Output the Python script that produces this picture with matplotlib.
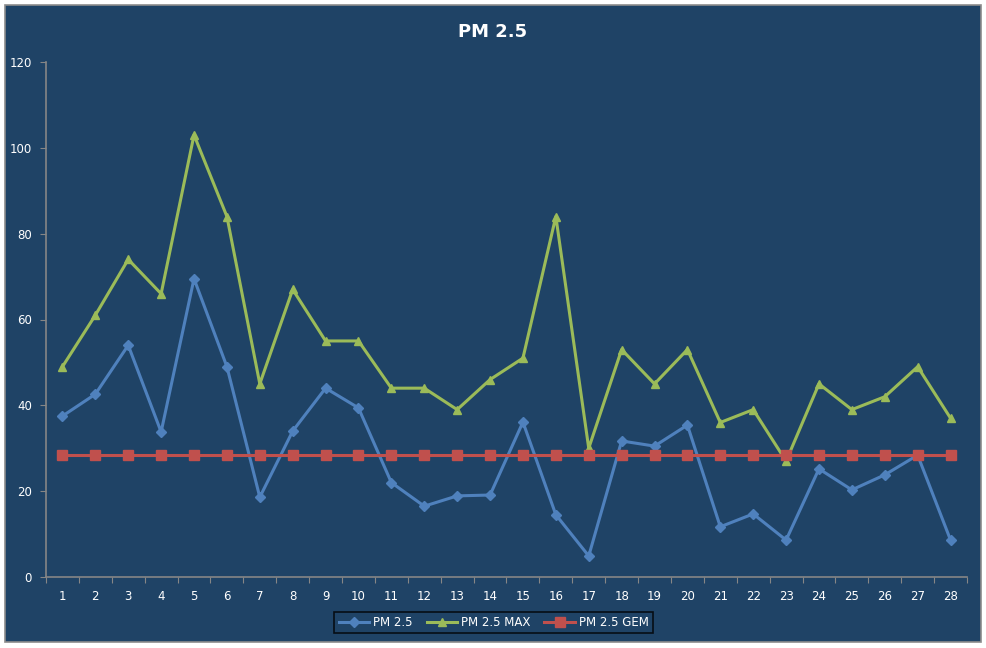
import matplotlib
matplotlib.use("Agg")
import matplotlib.pyplot as plt
from matplotlib.patches import Rectangle

# data
days = list(range(1, 29))
pm25 = [37.5, 42.6, 54.0, 33.8, 69.5, 49.0, 18.6, 34.0, 44.0, 39.4,
        22.0, 16.5, 18.9, 19.1, 36.1, 14.5, 4.9, 31.7, 30.5, 35.4,
        11.7, 14.7, 8.6, 25.2, 20.3, 23.8, 28.4, 8.6]
pm25Max = [49, 61, 74, 66, 103, 84, 45, 67, 55, 55,
           44, 44, 39, 46, 51, 84, 30, 53, 45, 53,
           36, 39, 27, 45, 39, 42, 49, 37]
pm25Gem = [28.4] * 28

bg = "#1F4366"
axisGrey = "#868686"

fig = plt.figure(figsize=(9.87, 6.48), dpi=100)
fig.patch.set_facecolor("white")
W, H = 987, 648
fig.patches.append(Rectangle((5 / W, 6 / H), 976 / W, 637 / H, transform=fig.transFigure,
                             facecolor=bg, edgecolor="#8C8C8C", linewidth=1.2, zorder=-10))

ax = fig.add_axes([46 / W, (H - 577) / H, (967 - 46) / W, (577 - 62) / H])
ax.set_facecolor(bg)
ax.patch.set_alpha(0)

ax.plot(days, pm25, color="#4F81BD", linewidth=2.2, marker="D", markersize=5, label="PM 2.5")
ax.plot(days, pm25Max, color="#9BBB59", linewidth=2.2, marker="^", markersize=6, label="PM 2.5 MAX")
ax.plot(days, pm25Gem, color="#C0504D", linewidth=2.2, marker="s", markersize=6.5, label="PM 2.5 GEM")

ax.set_xlim(0.5, 28.5)
ax.set_ylim(0, 120)
ax.set_yticks(range(0, 121, 20))
ax.set_xticks([d + 0.5 for d in range(0, 29)])
ax.set_xticklabels([])
ax.set_xticks(days, minor=True)
ax.set_xticklabels([str(d) for d in days], minor=True)
ax.tick_params(axis="x", which="major", length=4, color=axisGrey, direction="out")
ax.tick_params(axis="x", which="minor", length=0, pad=9, labelcolor="white", labelsize=8.5)
ax.tick_params(axis="y", length=4, color=axisGrey, labelcolor="white", labelsize=8.5, pad=6)

for side in ["top", "right"]:
    ax.spines[side].set_visible(False)
for side in ["left", "bottom"]:
    ax.spines[side].set_color(axisGrey)
    ax.spines[side].set_linewidth(1.2)

fig.text(493 / W, (H - 32) / H, "PM 2.5", color="white", fontsize=13, fontweight="bold",
         ha="center", va="center")

leg = fig.legend(loc="center", bbox_to_anchor=(493.5 / W, (H - 622.5) / H), ncol=3,
                 frameon=True, fancybox=False, fontsize=8.5, handlelength=2.6,
                 columnspacing=1.2, handletextpad=0.3, borderpad=0.35)
leg.get_frame().set_facecolor(bg)
leg.get_frame().set_edgecolor("black")
leg.get_frame().set_linewidth(1.2)
for t in leg.get_texts():
    t.set_color("white")

fig.savefig("out.png", dpi=100, facecolor=fig.get_facecolor())
